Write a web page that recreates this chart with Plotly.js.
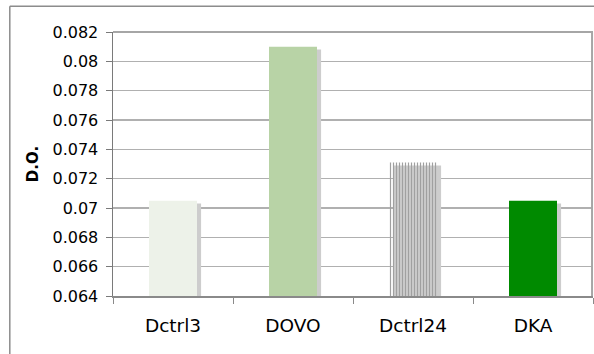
<!DOCTYPE html>
<html>
<head>
<meta charset="utf-8">
<script src="https://cdn.plot.ly/plotly-3.0.1.min.js"></script>
<style>
  html, body { margin: 0; padding: 0; background: #ffffff; }
  #chart { width: 594px; height: 354px; }
</style>
</head>
<body>
<div id="chart"></div>
<script>
// Optical density per sample group
const categories = ['Dctrl3', 'DOVO', 'Dctrl24', 'DKA'];
const values = [0.0705, 0.0810, 0.0731, 0.0705];
const barColors = ['#edf2e9', '#b8d3a6', '#a0a0a0', '#008a00'];
const tickValues = [0.064, 0.066, 0.068, 0.07, 0.072, 0.074, 0.076, 0.078, 0.08, 0.082];
const tickLabels = ['0.064', '0.066', '0.068', '0.07', '0.072', '0.074', '0.076', '0.078', '0.08', '0.082'];

const barWidth = 0.4;
const shadowShift = 0.034;   // category units, to the right
const shadowDrop = 0.0002;   // data units, downward

// soft grey drop shadow behind each bar
const shadow = {
  type: 'bar',
  x: categories,
  y: values.map(v => v - shadowDrop),
  width: barWidth,
  offset: -barWidth / 2 + shadowShift,
  marker: { color: '#cdcdcd', line: { width: 0 } },
  hoverinfo: 'skip',
  showlegend: false
};

const bars = {
  type: 'bar',
  x: categories,
  y: values,
  width: barWidth,
  offset: -barWidth / 2,
  marker: {
    color: barColors,
    line: { width: 0 },
    pattern: {
      shape: ['', '', '|', ''],
      fgcolor: ['#edf2e9', '#b8d3a6', '#5c5c5c', '#008a00'],
      bgcolor: ['#edf2e9', '#b8d3a6', '#adadad', '#008a00'],
      size: [8, 8, 3, 8],
      solidity: [0.01, 0.01, 0.4, 0.01],
      fillmode: 'replace'
    }
  },
  showlegend: false
};

const layout = {
  width: 594,
  height: 354,
  margin: { l: 113, r: 1, t: 32, b: 58 },
  paper_bgcolor: '#ffffff',
  plot_bgcolor: '#ffffff',
  barmode: 'overlay',
  font: { family: 'DejaVu Sans, Verdana, sans-serif', color: '#000000' },
  xaxis: {
    type: 'category',
    categoryorder: 'array',
    categoryarray: categories,
    range: [-0.5, 3.5],
    showgrid: false,
    zeroline: false,
    showline: true,
    linecolor: '#8a8a8a',
    linewidth: 2,
    ticks: 'outside',
    tickson: 'boundaries',
    ticklen: 6,
    tickwidth: 1,
    tickcolor: '#8a8a8a',
    ticklabelstandoff: 12,
    tickfont: { size: 18.5, family: 'DejaVu Sans, Verdana, sans-serif' },
    fixedrange: true
  },
  yaxis: {
    range: [0.064, 0.082],
    tickvals: tickValues,
    ticktext: tickLabels,
    showgrid: true,
    gridcolor: '#b0b0b0',
    gridwidth: 1.3,
    zeroline: false,
    showline: true,
    linecolor: '#7a7a7a',
    linewidth: 1.5,
    ticks: 'outside',
    ticklen: 6,
    tickwidth: 1,
    tickcolor: '#7a7a7a',
    ticklabelstandoff: 4,
    tickfont: { size: 16, family: 'DejaVu Sans, Verdana, sans-serif' },
    title: {
      text: '<b>D.O.</b>',
      font: { size: 15, family: 'DejaVu Sans, Verdana, sans-serif' },
      standoff: 10
    },
    fixedrange: true
  },
  shapes: [
    // plot area border, top and right
    { type: 'line', xref: 'paper', yref: 'paper', x0: 0, x1: 1, y0: 1, y1: 1,
      line: { color: '#a6a6a6', width: 2 } },
    { type: 'line', xref: 'paper', yref: 'paper', x0: 0.998, x1: 0.998, y0: 0, y1: 1,
      line: { color: '#a6a6a6', width: 2 } },
    // chart frame, top and left
    { type: 'line', xref: 'paper', yref: 'paper', x0: -0.215, x1: 1.01, y0: 1.098, y1: 1.098,
      line: { color: '#8c8c8c', width: 1.5 } },
    { type: 'line', xref: 'paper', yref: 'paper', x0: -0.215, x1: -0.215, y0: 1.098, y1: -0.25,
      line: { color: '#8c8c8c', width: 1.5 } }
  ]
};

Plotly.newPlot('chart', [shadow, bars], layout, { staticPlot: true, displayModeBar: false });
</script>
</body>
</html>
